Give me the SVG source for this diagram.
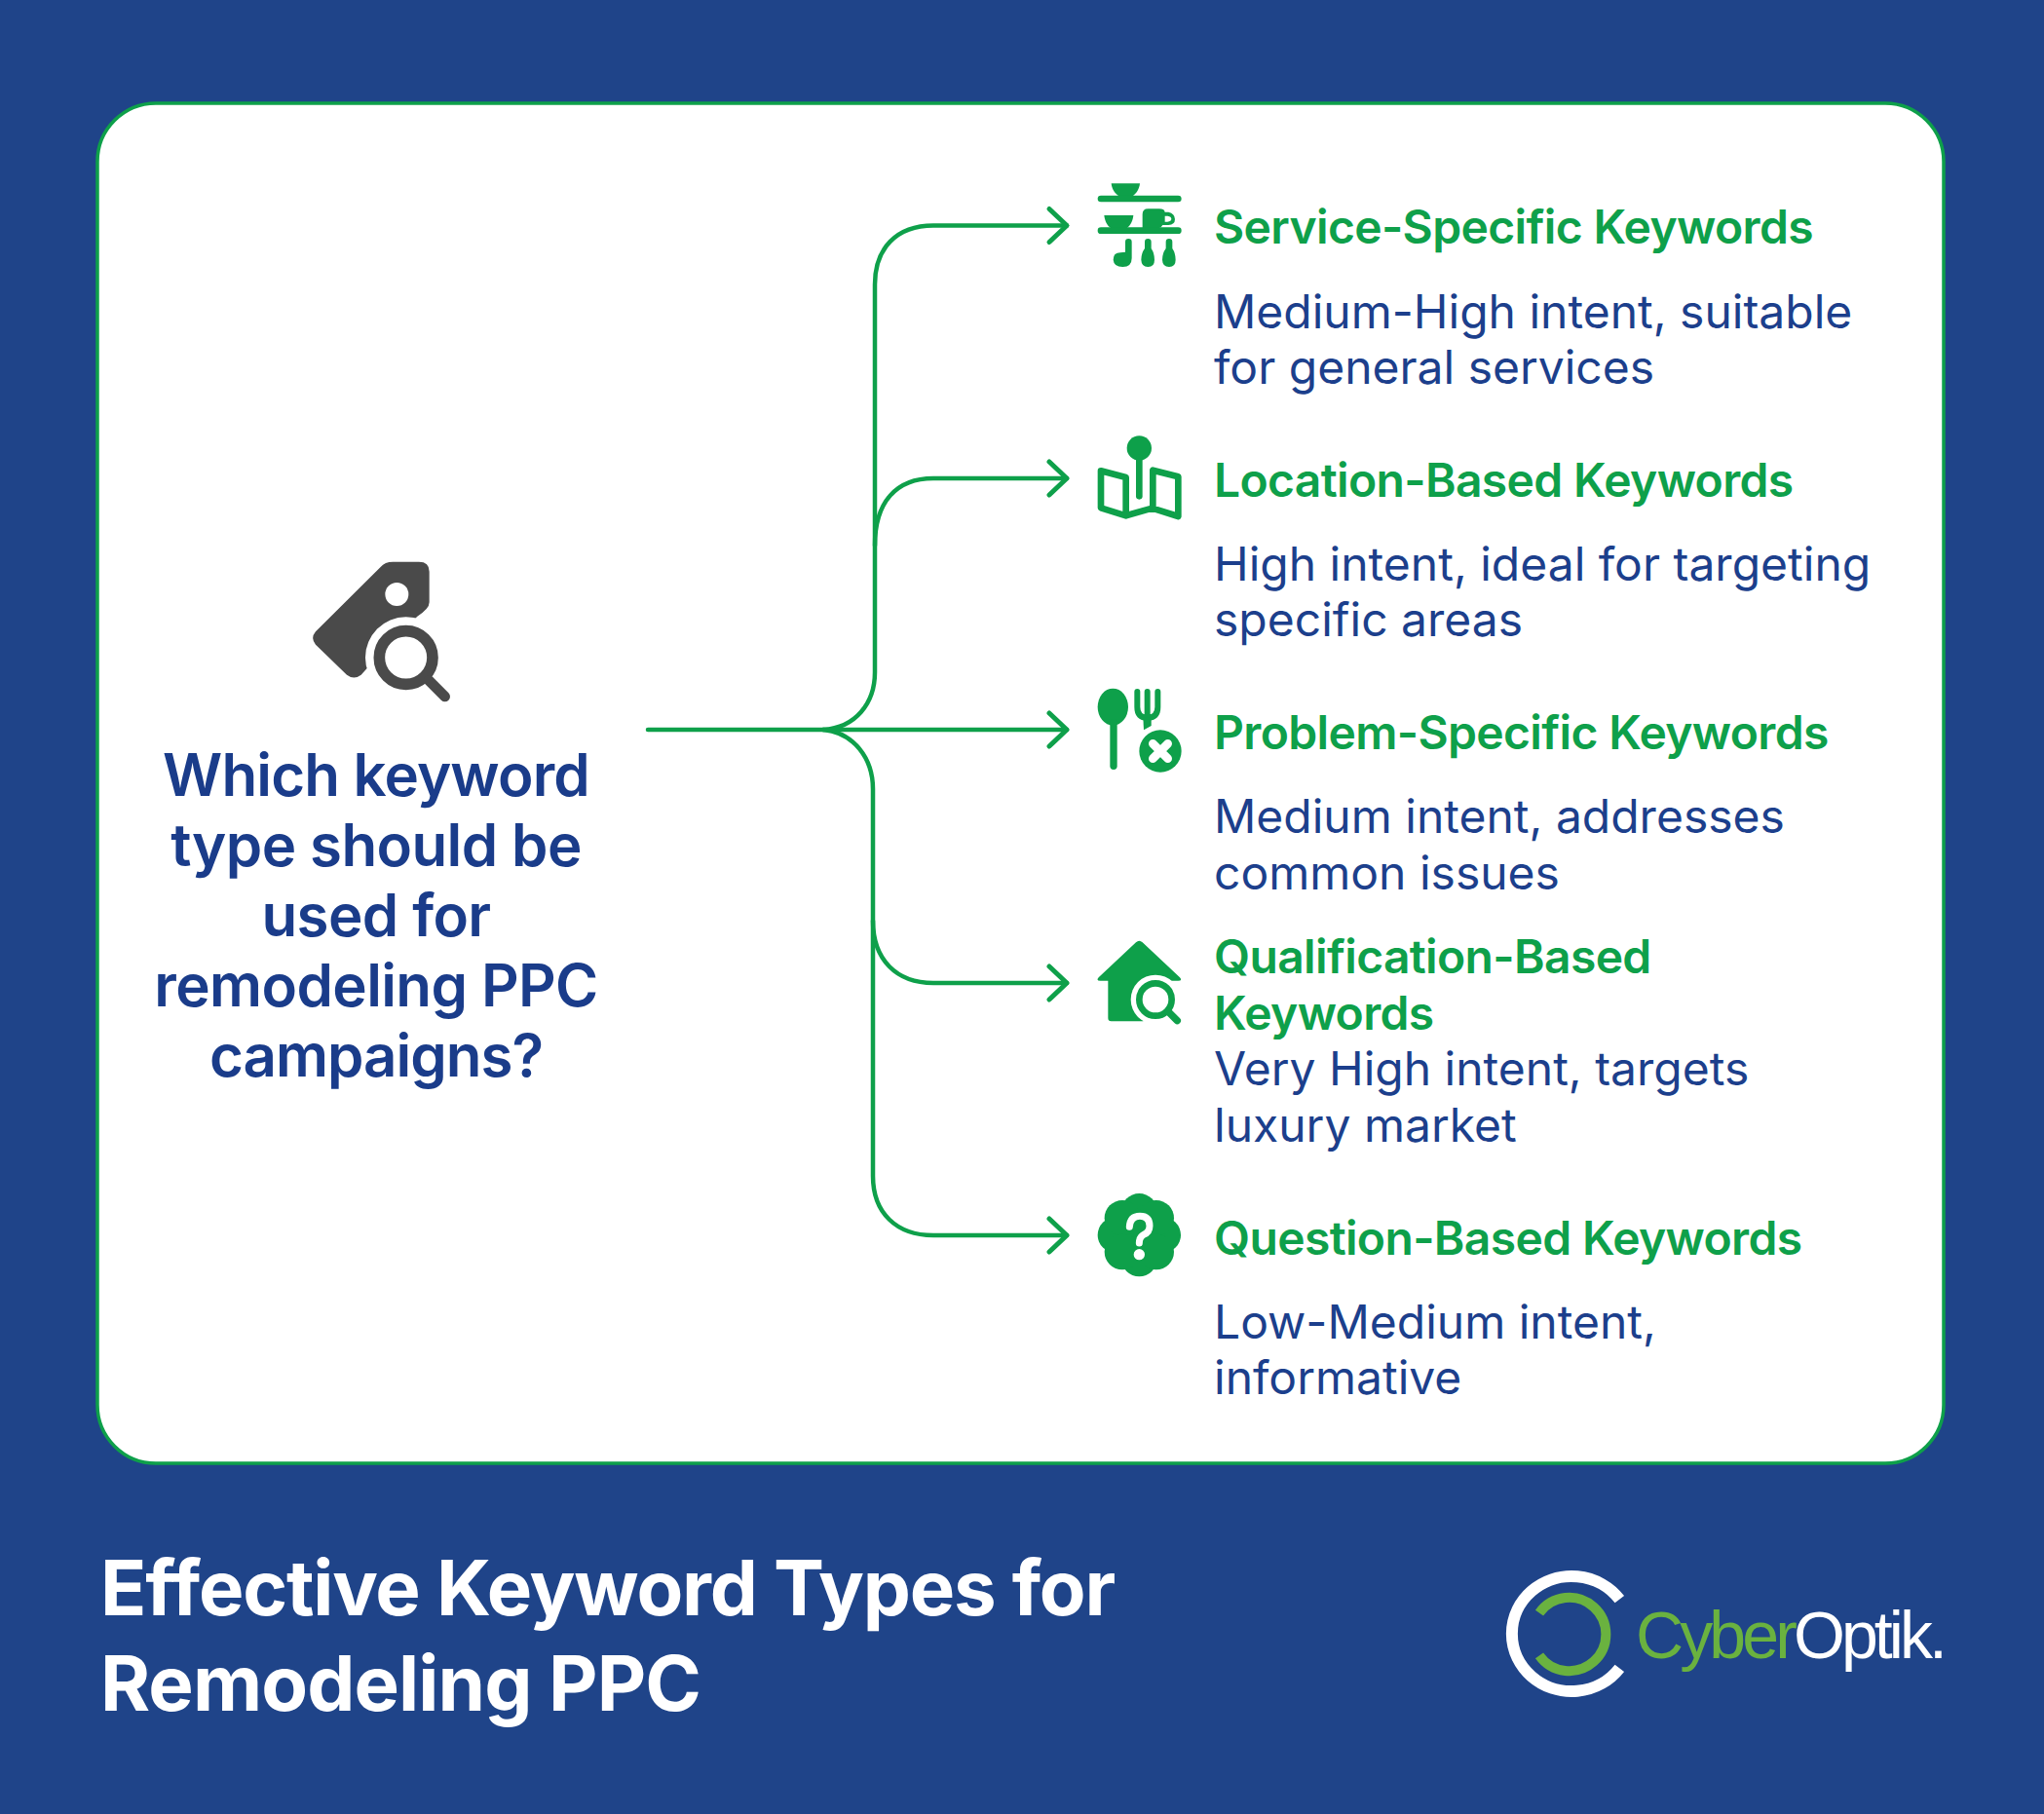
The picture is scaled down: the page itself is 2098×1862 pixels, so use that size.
<svg xmlns="http://www.w3.org/2000/svg" width="2098" height="1862" viewBox="0 0 2098 1862">
<style>
text{font-family:Inter,"Liberation Sans",sans-serif}
.t{font-size:48px;font-weight:600;fill:#0ea04a;letter-spacing:-.65px}
.d{font-size:48px;font-weight:400;fill:#1c3f8c}
.q{font-size:60px;font-weight:600;fill:#1a3c8a;text-anchor:middle;letter-spacing:-.6px}
.f{font-size:78px;font-weight:700;fill:#fff;letter-spacing:-1.200px}
.l{font-family:"Liberation Sans",Arial,sans-serif;font-size:68px}
.c{fill:none;stroke:#0ea04a;stroke-width:4.500;stroke-linecap:round}
.g{fill:#0ea04a}
.k{fill:#4a4a4a}
</style>
<defs>
<marker id="a" markerUnits="userSpaceOnUse" markerWidth="30" markerHeight="44" refX="24" refY="22" orient="auto" viewBox="0 0 30 44"><path d="M6 5 L24 22 L6 39" fill="none" stroke="#0ea04a" stroke-width="5" stroke-linecap="round" stroke-linejoin="round"/></marker>
</defs>
<rect width="2098" height="1862" fill="#1f4489"/>
<rect x="100" y="106" width="1895" height="1396" rx="60" fill="#fff" stroke="#0ea04a" stroke-width="3.500"/>
<g id="connectors">
<path class="c" marker-end="url(#a)" d="M665 749 H1095"/>
<path class="c" marker-end="url(#a)" d="M845 749 C878 747 898 722 898 690 V292 C898 255 920 231.500 958 231.500 H1095"/>
<path class="c" marker-end="url(#a)" d="M898 560 C898 515 920 491 958 491 H1095"/>
<path class="c" marker-end="url(#a)" d="M845 749 C876 752 896 778 896 810 V945 C896 985 920 1009 958 1009 H1095"/>
<path class="c" marker-end="url(#a)" d="M896 945 V1207 C896 1245 920 1268 958 1268 H1095"/>
</g>
<g id="root">
<g transform="translate(300 560) scale(.3333)">
<path class="k" d="M272 66 L72 265 Q55 285 72 305 L168 398 Q190 415 212 398 L300 300 L385 218 Q422 195 422 175 V80 Q422 50 390 50 H310 Q285 50 272 66Z"/>
<circle cx="350" cy="345" r="125" fill="#fff"/>
<circle cx="322" cy="150" r="36" fill="#fff"/>
<circle cx="350" cy="345" r="82" fill="none" stroke="#4a4a4a" stroke-width="35"/>
<path d="M420 415 L470 465" stroke="#4a4a4a" stroke-width="32" stroke-linecap="round"/>
</g>
<text class="q" x="386" y="816.500" style="letter-spacing:-.85px">Which keyword</text>
<text class="q" x="386" y="888.500">type should be</text>
<text class="q" x="386" y="960.500">used for</text>
<text class="q" x="386" y="1033">remodeling PPC</text>
<text class="q" x="386" y="1105" style="letter-spacing:-1px">campaigns?</text>
</g>
<g id="node-service">
<g class="g" transform="translate(1100 170) scale(.3333)">
<path d="M122 55 H210 C208 75 197 88 187 94 H146 C135 88 124 75 122 55Z"/>
<rect x="80" y="92" width="258" height="20" rx="10"/>
<path d="M100 153 H190 C188 172 180 185 170 192 H120 C110 185 102 172 100 153Z"/>
<path fill-rule="evenodd" d="M218 150 Q218 133 235 133 H270 Q285 133 287 143 H298 Q318 148 318 165 Q318 182 298 183 H280 Q275 192 270 192 H218Z M287 155 V173 H295 Q307 171 307 164 Q307 157 296 155Z"/>
<rect x="80" y="190" width="258" height="20" rx="10"/>
<path d="M165 235 Q165 225 175 225 Q185 225 185 235 V285 Q185 312 157 312 Q130 312 128 290 Q128 268 150 268 L165 266Z"/>
<path d="M225 235 Q225 225 235 225 Q245 225 245 235 V255 Q255 270 255 290 Q255 312 235 312 Q215 312 214 290 Q214 270 225 255Z"/>
<path transform="translate(65 0)" d="M225 235 Q225 225 235 225 Q245 225 245 235 V255 Q255 270 255 290 Q255 312 235 312 Q215 312 214 290 Q214 270 225 255Z"/>
</g>
<text class="t" x="1246" y="250">Service-Specific Keywords</text>
<text class="d" x="1246" y="336.500">Medium-High intent, suitable</text>
<text class="d" x="1246" y="394">for general services</text>
</g>
<g id="node-location">
<g transform="translate(1100 430) scale(.3333)">
<circle class="g" cx="208" cy="90" r="38"/>
<path d="M208 120 V238" stroke="#0ea04a" stroke-width="20" stroke-linecap="round"/>
<path d="M90 160 L167 180 V298 L90 274Z M167 298 L248 275 L328 300 V178 L250 158 V275" fill="none" stroke="#0ea04a" stroke-width="20" stroke-linejoin="round"/>
</g>
<text class="t" x="1246" y="509.500">Location-Based Keywords</text>
<text class="d" x="1246" y="596">High intent, ideal for targeting</text>
<text class="d" x="1246" y="653">specific areas</text>
</g>
<g id="node-problem">
<g transform="translate(1100 695) scale(.3333)">
<ellipse class="g" cx="127" cy="92" rx="47" ry="57"/>
<rect class="g" x="118" y="130" width="22" height="155" rx="11"/>
<path d="M202 45 V92 Q202 125 233 125 Q265 125 265 92 V45 M233 45 V125" fill="none" stroke="#0ea04a" stroke-width="18" stroke-linecap="round"/>
<path class="g" d="M220 125 H245 V150 L222 163Z"/>
<circle class="g" cx="273" cy="228" r="65"/>
<path d="M250 205 L296 251 M296 205 L250 251" stroke="#fff" stroke-width="26" stroke-linecap="round"/>
</g>
<text class="t" x="1246" y="769">Problem-Specific Keywords</text>
<text class="d" x="1246" y="855">Medium intent, addresses</text>
<text class="d" x="1246" y="913">common issues</text>
</g>
<g id="node-qualification">
<g transform="translate(1100 950) scale(.3333)">
<path class="g" d="M112 170 H88 Q74 170 83 160 L198 52 Q208 43 218 52 L333 160 Q342 170 328 170 H290 L220 295 H122 Q112 295 112 285Z"/>
<circle cx="258" cy="228" r="76" fill="#fff"/>
<circle cx="258" cy="228" r="50" fill="none" stroke="#0ea04a" stroke-width="20"/>
<path d="M298 266 L325 293" stroke="#0ea04a" stroke-width="22" stroke-linecap="round"/>
</g>
<text class="t" x="1246" y="999">Qualification-Based</text>
<text class="t" x="1246" y="1056.500">Keywords</text>
<text class="d" x="1246" y="1114">Very High intent, targets</text>
<text class="d" x="1246" y="1172">luxury market</text>
</g>
<g id="node-question">
<g class="g" transform="translate(1100 1210) scale(.3333)">
<circle cx="208" cy="173" r="100"/>
<circle cx="208" cy="100" r="55"/><circle cx="208" cy="246" r="55"/><circle cx="135" cy="173" r="55"/><circle cx="281" cy="173" r="55"/>
<circle cx="156" cy="121" r="55"/><circle cx="260" cy="121" r="55"/><circle cx="156" cy="225" r="55"/><circle cx="260" cy="225" r="55"/>
<path d="M178 148 Q180 115 210 115 Q240 115 240 145 Q240 165 222 172 Q208 180 208 198" fill="none" stroke="#fff" stroke-width="21" stroke-linecap="round"/>
<circle cx="208" cy="233" r="17" fill="#fff"/>
</g>
<text class="t" x="1246" y="1287.500">Question-Based Keywords</text>
<text class="d" x="1246" y="1373.500">Low-Medium intent,</text>
<text class="d" x="1246" y="1431">informative</text>
</g>
<g id="footer">
<text class="f" x="103" y="1657.500">Effective Keyword Types for</text>
<text class="f" x="103" y="1755.500" style="letter-spacing:-.9px">Remodeling PPC</text>
</g>
<g id="logo">
<g transform="translate(1520 1590) scale(.3333)" fill="none">
<path d="M427 155 A184 177 0 1 0 427 367" stroke="#fff" stroke-width="36"/>
<path d="M180 197 A113 113 0 1 1 180 328" stroke="#6ab23f" stroke-width="30"/>
</g>
<text class="l" x="1679" y="1702" letter-spacing="-3.900"><tspan fill="#6ab23f">Cyber</tspan><tspan fill="#fff">Optik.</tspan></text>
</g>
</svg>
